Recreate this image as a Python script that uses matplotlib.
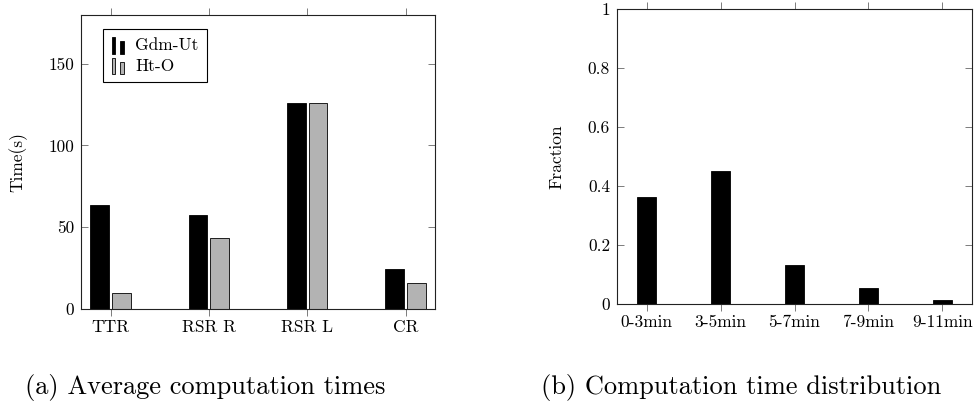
import matplotlib
matplotlib.use("Agg")
import matplotlib.pyplot as plt
import numpy as np
from matplotlib.legend_handler import HandlerBase
from matplotlib.patches import Rectangle, Patch

plt.rcParams['font.family'] = ['cmr10', 'DejaVu Serif']
plt.rcParams['axes.formatter.use_mathtext'] = True

# ---- data ----
methods = ["TTR", "RSR R", "RSR L", "CR"]
gdm_ut = [63.6, 57.3, 125.7, 24.3]
ht_o = [9.6, 43.2, 126.0, 15.7]
series_names = ["Gdm-Ut", "Ht-O"]
yticks_a = [0, 50, 100, 150]
yticklabels_a = ["0", "50", "100", "150"]

bins = ["0-3min", "3-5min", "5-7min", "7-9min", "9-11min"]
fractions = [0.361, 0.451, 0.131, 0.052, 0.012]
yticks_b = [0, 0.2, 0.4, 0.6, 0.8, 1.0]
yticklabels_b = ["0", "0.2", "0.4", "0.6", "0.8", "1"]

caption_a = "(a) Average computation times"
caption_b = "(b) Computation time distribution"

BLACK = "#000000"
GRAY = "#b3b3b3"
FS = 12.5


class BarPairHandler(HandlerBase):
    def create_artists(self, legend, orig_handle, xdescent, ydescent,
                       width, height, fontsize, trans):
        fc = orig_handle.get_facecolor()
        bw = 0.22 * fontsize
        x0 = -xdescent
        y0 = -ydescent - 0.2 * fontsize
        r1 = Rectangle((x0, y0), bw, 0.95 * fontsize, facecolor=fc,
                       edgecolor="black", linewidth=0.6, transform=trans)
        r2 = Rectangle((x0 + 2.2 * bw, y0), bw, 0.72 * fontsize, facecolor=fc,
                       edgecolor="black", linewidth=0.6, transform=trans)
        return [r1, r2]


fig = plt.figure(figsize=(9.75, 4.07), dpi=100)

W, H = 975.0, 407.0
axA = fig.add_axes([81 / W, (H - 309) / H, 354 / W, 294.3 / H])
axB = fig.add_axes([617 / W, (H - 303.7) / H, 355 / W, 294.4 / H])

# ---- panel a ----
xa = np.arange(len(methods))
bw = 0.19
off = 0.11
axA.bar(xa - off, gdm_ut, width=bw, color=BLACK, edgecolor="black",
        linewidth=0.6, label=series_names[0])
axA.bar(xa + off, ht_o, width=bw, color=GRAY, edgecolor="black",
        linewidth=0.6, label=series_names[1])
axA.set_xlim(-0.3, len(methods) - 1 + 0.3)
axA.set_ylim(0, 180)
axA.set_xticks(xa)
axA.set_xticklabels(methods)
axA.set_yticks(yticks_a)
axA.set_yticklabels(yticklabels_a)
axA.set_ylabel("Time(s)", fontsize=FS, labelpad=15)

handles = [Patch(facecolor=BLACK), Patch(facecolor=GRAY)]
leg = axA.legend(handles, series_names, loc="upper left",
                 bbox_to_anchor=(0.062, 0.951), borderaxespad=0,
                 fontsize=FS, handler_map={Patch: BarPairHandler()},
                 handlelength=1.0, handletextpad=0.35, labelspacing=0.3,
                 borderpad=0.5, fancybox=False, framealpha=1,
                 edgecolor="black")
leg.get_frame().set_linewidth(0.8)

# ---- panel b ----
xb = np.arange(len(bins))
axB.bar(xb, fractions, width=0.25, color=BLACK, edgecolor="black", linewidth=0.6)
axB.set_xlim(-0.4, len(bins) - 1 + 0.4)
axB.set_ylim(0, 1)
axB.set_xticks(xb)
axB.set_xticklabels(bins)
axB.set_yticks(yticks_b)
axB.set_yticklabels(yticklabels_b)
axB.set_ylabel("Fraction", fontsize=FS, labelpad=17)

for ax in (axA, axB):
    for s in ax.spines.values():
        s.set_linewidth(0.8)
        s.set_color("#222222")
    ax.tick_params(axis="x", which="both", direction="out", top=True,
                   bottom=True, length=5, width=0.6, color="#666666",
                   labelsize=FS, pad=3)
    ax.tick_params(axis="y", which="both", direction="in", left=True,
                   right=True, length=5, width=0.6, color="#666666",
                   labelsize=FS, pad=5)

fig.text(25 / W, (H - 394) / H, caption_a, fontsize=19, ha="left", va="baseline")
fig.text(541 / W, (H - 394) / H, caption_b, fontsize=19, ha="left", va="baseline")

fig.savefig("out.png", dpi=100)
